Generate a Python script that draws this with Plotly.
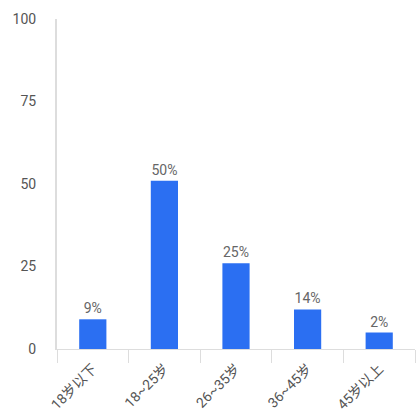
import plotly.graph_objects as go

categories = ["18岁以下", "18~25岁", "26~35岁", "36~45岁", "45岁以上"]
values = [9, 51, 26, 12, 5]
labels = ["9%", "50%", "25%", "14%", "2%"]
y_ticks = [0, 25, 50, 75, 100]

fig = go.Figure(go.Bar(
    x=categories, y=values, text=labels, textposition="outside",
    marker=dict(color="#2B6FF2", line=dict(width=0)),
    textfont=dict(color="#666666", size=14),
    width=0.38, cliponaxis=False,
))

fig.update_layout(
    width=417, height=419,
    margin=dict(l=57, r=2, t=19, b=70),
    paper_bgcolor="white", plot_bgcolor="white",
    font=dict(family="Roboto, Noto Sans CJK SC", color="#555555", size=14),
    showlegend=False,
    xaxis=dict(
        tickangle=-45, showline=True, linecolor="#dddddd", linewidth=1,
        ticks="outside", tickson="boundaries", ticklen=13, tickcolor="#dddddd",
        showgrid=False, tickfont=dict(size=14, color="#555555"),
        ticklabelstandoff=5,
    ),
    yaxis=dict(
        range=[0, 100], tickvals=y_ticks, showline=True, linecolor="#dddddd",
        linewidth=2, showgrid=False, zeroline=False, ticks="",
        ticklabelstandoff=16, tickfont=dict(size=14, color="#555555"),
    ),
)

fig.write_html("out.html")
